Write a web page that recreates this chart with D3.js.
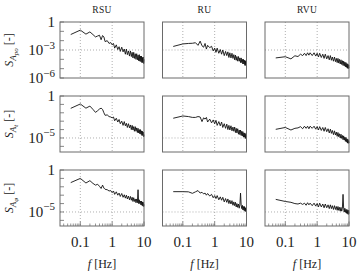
<!DOCTYPE html>
<html>
<head>
<meta charset="utf-8">
<script src="https://cdn.jsdelivr.net/npm/d3@7"></script>
<style>
  body { margin: 0; background: #fff; }
  svg text { font-family: "Liberation Serif", "DejaVu Serif", serif; fill: #222; }
</style>
</head>
<body>
<div id="chart"></div>
<script>
/**
 * DATA
 * spectra are stored as log10(S), one value per frequency
 * */
const freq = [0.05,0.1,0.15,0.2,0.25,0.3,0.35,0.4,0.45,0.5,
  0.55,0.6,0.7,0.8,0.9,1.0,1.1,1.2,1.35,1.5,
  1.65,1.8,2.0,2.2,2.4,2.6,2.8,3.0,3.25,3.5,
  3.75,4.0,4.25,4.5,4.75,5.0,5.3,5.6,5.9,6.2,
  6.5,6.8,7.1,7.4,7.7,8.0,8.3,8.6,8.9,9.2,
  9.5,9.75,10];

const columns = ["RSU", "RU", "RVU"];
const rowSubs = ["po", "t", "φ"];
const xTickLabels = [0.1, 1, 10];
const yTickExps = [[0, -3, -6], [0, -5], [0, -5]];
const yGridExp = [-3, -5, -5];

const rsuPo = [-1.34,-0.87,-1.3,-1.06,-1.35,-1.6,-1.5,-1.42,-1.9,-1.45,
  -1.6,-2.1,-2.0,-2.3,-2.2,-2.45,-2.3,-2.8,-2.45,-2.95,
  -2.65,-3.15,-2.7,-3.2,-2.9,-3.45,-2.9,-3.5,-3.1,-3.65,
  -3.1,-3.7,-3.25,-3.85,-3.25,-3.9,-3.4,-4.0,-3.4,-4.05,
  -3.55,-4.15,-3.5,-4.2,-3.65,-4.25,-3.65,-4.35,-3.8,-4.35,
  -3.75,-4.45,-4.0];
const ruPo = [-2.62,-2.35,-2.3,-2.28,-2.22,-2.5,-2.05,-2.55,-2.7,-2.3,
  -2.9,-2.5,-2.75,-2.6,-3.1,-2.8,-3.25,-2.8,-3.35,-2.95,
  -3.45,-3.0,-3.6,-3.15,-3.6,-3.2,-3.8,-3.3,-3.85,-3.35,
  -3.9,-3.5,-4.05,-3.55,-4.1,-3.7,-4.2,-3.7,-4.2,-3.85,
  -4.35,-3.85,-4.35,-4.0,-4.5,-4.0,-4.5,-4.1,-4.65,-4.15,
  -4.65,-4.3,-4.7];
const rvuPo = [-3.85,-3.72,-3.95,-3.62,-3.7,-3.45,-3.6,-3.35,-3.6,-3.3,
  -3.55,-3.3,-3.6,-3.3,-3.65,-3.35,-3.75,-3.35,-3.8,-3.45,
  -3.9,-3.45,-3.95,-3.6,-4.05,-3.6,-4.1,-3.75,-4.2,-3.75,
  -4.25,-3.9,-4.35,-3.9,-4.4,-4.0,-4.5,-4.05,-4.55,-4.15,
  -4.65,-4.2,-4.7,-4.3,-4.8,-4.35,-4.85,-4.45,-4.95,-4.5,
  -5.0,-4.6,-4.95];

const rsuT = [-1.47,-0.95,-1.45,-1.2,-1.6,-1.95,-1.75,-1.55,-1.45,-1.6,
  -2.0,-2.3,-2.25,-2.45,-2.5,-2.6,-2.5,-2.95,-2.65,-3.1,
  -2.8,-3.3,-3.0,-3.5,-3.05,-3.55,-3.25,-3.75,-3.3,-3.8,
  -3.45,-4.0,-3.5,-4.05,-3.65,-4.2,-3.65,-4.2,-3.8,-4.35,
  -3.85,-4.4,-4.0,-4.5,-4.0,-4.55,-4.15,-4.7,-4.2,-4.7,
  -4.3,-4.85,-4.6];
const ruT = [-2.65,-2.38,-2.45,-2.55,-2.55,-2.45,-2.5,-3.05,-2.6,-2.75,
  -2.55,-3.1,-2.75,-3.2,-2.85,-3.3,-2.9,-3.5,-3.05,-3.55,
  -3.1,-3.75,-3.3,-3.85,-3.35,-4.0,-3.5,-4.05,-3.55,-4.15,
  -3.7,-4.2,-3.7,-4.35,-3.85,-4.4,-3.9,-4.55,-4.05,-4.6,
  -4.05,-4.7,-4.2,-4.75,-4.25,-4.9,-4.4,-4.9,-4.4,-5.05,
  -4.55,-5.05,-4.85];
const rvuT = [-3.97,-3.75,-4.05,-3.85,-3.8,-3.65,-3.9,-3.6,-3.85,-3.6,
  -3.9,-3.6,-3.85,-3.6,-3.95,-3.65,-4.05,-3.65,-4.1,-3.75,
  -4.2,-3.75,-4.25,-3.9,-4.4,-3.95,-4.45,-4.1,-4.6,-4.15,
  -4.65,-4.3,-4.8,-4.35,-4.85,-4.5,-5.0,-4.55,-5.05,-4.7,
  -5.2,-4.75,-5.25,-4.9,-5.4,-4.95,-5.45,-5.1,-5.6,-5.15,
  -5.65,-5.3,-5.6];

const rsuQ = [-1.5,-1.0,-1.55,-1.27,-1.6,-1.8,-1.7,-1.95,-2.2,-1.8,
  -2.15,-2.3,-2.35,-2.5,-2.45,-2.7,-2.5,-2.9,-2.6,-3.0,
  -2.75,-3.15,-2.8,-3.25,-2.95,-3.35,-3.0,-3.45,-3.1,-3.55,
  -3.15,-3.6,-3.25,-3.75,-3.3,-3.75,-3.45,-3.9,-3.45,-3.9,
  -2.35,-4.0,-3.55,-4.0,-3.7,-4.15,-3.7,-4.2,-3.8,-4.3,
  -3.85,-4.35,-4.1];
const ruQ = [-2.58,-2.58,-2.6,-2.78,-2.6,-2.45,-2.75,-2.65,-2.85,-2.75,
  -3.0,-2.8,-3.1,-2.9,-3.3,-3.05,-3.4,-3.05,-3.55,-3.2,
  -3.6,-3.25,-3.8,-3.4,-3.85,-3.45,-4.0,-3.6,-4.05,-3.65,
  -4.2,-3.8,-4.25,-3.85,-4.4,-4.0,-4.45,-4.05,-4.55,-4.15,
  -2.75,-4.2,-4.6,-4.2,-4.75,-4.35,-4.8,-4.35,-4.9,-4.5,
  -4.95,-4.5,-4.9];
const rvuQ = [-3.5,-3.75,-3.85,-4.0,-4.05,-3.95,-4.1,-3.95,-4.2,-3.9,
  -4.15,-3.95,-4.25,-3.95,-4.3,-4.0,-4.4,-3.95,-4.4,-4.05,
  -4.5,-4.05,-4.5,-4.15,-4.6,-4.15,-4.6,-4.25,-4.7,-4.25,
  -4.7,-4.35,-4.8,-4.35,-4.8,-4.45,-4.9,-4.45,-4.9,-4.55,
  -2.9,-4.6,-5.0,-4.55,-5.05,-4.7,-5.15,-4.7,-5.2,-4.8,
  -5.3,-4.8,-5.2];

const series = [
  [rsuPo, ruPo, rvuPo],
  [rsuT, ruT, rvuT],
  [rsuQ, ruQ, rvuQ]
];

/**
 * LAYOUT
 * */
const width = 357, height = 271;
const marginLeft = 60, marginTop = 22, pw = 84, ph = 56, gapX = 18.5, gapY = 18;
const frameColor = "#6a6a6a", gridColor = "#9a9a9a";
const serif = "'Liberation Serif', 'DejaVu Serif', serif";

const svg = d3.select("#chart").append("svg")
  .attr("width", width)
  .attr("height", height)
  .attr("font-family", serif);

/**********/
/* SCALES */
/**********/
const x = d3.scaleLog().domain([0.023, 10]).range([0, pw]);
const yScales = [
  d3.scaleLog().domain([1e-6, 1]).range([ph, 0]),
  d3.scaleLog().domain([Math.pow(10, -6.67), 1]).range([ph, 0]),
  d3.scaleLog().domain([Math.pow(10, -6.67), 1]).range([ph, 0])
];

const xMinor = d3.range(3, 10).map(k => k / 100)
  .concat(d3.range(2, 10).map(k => k / 10), d3.range(2, 10));

series.forEach((rowSeries, r) => {
  const y = yScales[r];
  const line = d3.line().x(d => x(d.f)).y(d => y(d.s));

  rowSeries.forEach((vals, c) => {
    const g = svg.append("g")
      .attr("transform", `translate(${marginLeft + c * (pw + gapX)},${marginTop + r * (ph + gapY)})`);

    // dotted grid
    g.selectAll("line.vgrid").data([0.1, 1]).join("line")
      .attr("x1", d => x(d)).attr("x2", d => x(d))
      .attr("y1", 0).attr("y2", ph)
      .attr("stroke", gridColor).attr("stroke-width", 0.8)
      .attr("stroke-dasharray", "1,2");
    g.append("line")
      .attr("x1", 0).attr("x2", pw)
      .attr("y1", y(Math.pow(10, yGridExp[r]))).attr("y2", y(Math.pow(10, yGridExp[r])))
      .attr("stroke", gridColor).attr("stroke-width", 0.8)
      .attr("stroke-dasharray", "1,2");

    // spectrum
    const pts = freq.map((f, i) => ({ f: f, s: Math.pow(10, vals[i]) }));
    g.append("path")
      .datum(pts)
      .attr("d", line)
      .attr("fill", "none")
      .attr("stroke", "#111")
      .attr("stroke-width", 0.9);

    // left ticks (first column)
    if (c === 0) {
      const decades = d3.range(0, -7, -1).filter(e => Math.pow(10, e) >= y.domain()[0]);
      g.selectAll("line.ytick").data(decades).join("line")
        .attr("x1", 0).attr("x2", 4)
        .attr("y1", d => y(Math.pow(10, d))).attr("y2", d => y(Math.pow(10, d)))
        .attr("stroke", frameColor).attr("stroke-width", 0.8);

      const lab = g.selectAll("text.ylab").data(yTickExps[r]).join("text")
        .attr("x", -5)
        .attr("y", d => y(Math.pow(10, d)) + 5)
        .attr("text-anchor", "end")
        .attr("font-family", serif)
        .style("font-size", "15px");
      lab.each(function (d) {
        const t = d3.select(this);
        if (d === 0) { t.text("1"); return; }
        t.append("tspan").text("10");
        t.append("tspan").attr("dy", -6.5).style("font-size", "11px").text("\u2212" + (-d));
      });
    }

    // bottom ticks (last row)
    if (r === 2) {
      g.selectAll("line.xminor").data(xMinor).join("line")
        .attr("x1", d => x(d)).attr("x2", d => x(d))
        .attr("y1", ph).attr("y2", ph - 2.5)
        .attr("stroke", frameColor).attr("stroke-width", 0.7);
      g.selectAll("line.xmajor").data(xTickLabels).join("line")
        .attr("x1", d => x(d)).attr("x2", d => x(d))
        .attr("y1", ph).attr("y2", ph - 4.5)
        .attr("stroke", frameColor).attr("stroke-width", 0.8);
      g.selectAll("text.xlab").data(xTickLabels).join("text")
        .attr("x", d => x(d))
        .attr("y", ph + 21)
        .attr("text-anchor", "middle")
        .attr("font-family", serif)
        .style("font-size", "15px")
        .text(d => d);
      const fl = g.append("text")
        .attr("x", pw / 2).attr("y", ph + 42)
        .attr("text-anchor", "middle")
        .attr("font-family", serif)
        .style("font-size", "12px");
      fl.append("tspan").style("font-style", "italic").text("f");
      fl.append("tspan").text(" [Hz]");
    }

    // column titles
    if (r === 0) {
      g.append("text")
        .attr("x", pw / 2).attr("y", -9)
        .attr("text-anchor", "middle")
        .attr("font-family", serif)
        .style("font-size", "9.5px")
        .style("letter-spacing", "0.3px")
        .text(columns[c]);
    }

    // frame
    g.append("rect")
      .attr("width", pw).attr("height", ph)
      .attr("fill", "none")
      .attr("stroke", frameColor)
      .attr("stroke-width", 1);
  });

  // row label
  const yl = svg.append("text")
    .attr("transform", `translate(13,${marginTop + r * (ph + gapY) + ph / 2}) rotate(-90)`)
    .attr("text-anchor", "middle")
    .attr("font-family", serif)
    .style("font-size", "12px");
  yl.append("tspan").style("font-style", "italic").text("S");
  yl.append("tspan").attr("dy", 3).style("font-size", "9px").style("font-style", "italic").text("A");
  yl.append("tspan").attr("dy", 2).style("font-size", "7px").style("font-style", "italic").text(rowSubs[r]);
  yl.append("tspan").attr("dy", -5).text(" [-]");
});
</script>
</body>
</html>
